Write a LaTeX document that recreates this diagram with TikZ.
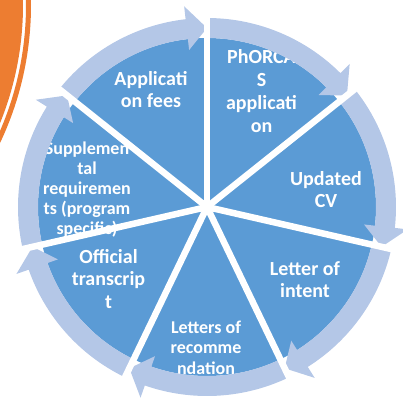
\documentclass[tikz,border=0pt]{standalone}
\usepackage{fontspec}
\setmainfont{Carlito}
\definecolor{pieblue}{HTML}{5B9BD5}
\definecolor{bandblue}{HTML}{B4C7E7}
\definecolor{accorange}{HTML}{ED7D31}
\tikzset{
  lblA/.style={text=white, font=\bfseries\fontsize{20}{22}\selectfont, anchor=base, inner sep=0pt},
  lblB/.style={text=white, font=\bfseries\fontsize{18}{20}\selectfont, anchor=base, inner sep=0pt},
  sepline/.style={draw=white, line width=6.5pt},
  bandarrow/.style={fill=bandblue},
}
\begin{document}
\begin{tikzpicture}[x=1pt,y=1pt]
\useasboundingbox (0,0) rectangle (403,402);
\clip (0,0) rectangle (403,402);
% orange decoration
\fill[accorange] (-291,397) circle[radius=314];
\draw[accorange, line width=5pt] (-291,397) circle[radius=319.5];
% pie
\node[circle, fill=pieblue, minimum size=338pt, inner sep=0pt] (pie) at (207,195) {};
% labels
\foreach \t [count=\i] in {{PhORCA},{S},{applicati},{on}}
  \node[lblA] (phorcas-\i) at (261.5,{338-22.7*(\i-1)}) {\t};
\foreach \t [count=\i] in {{Updated},{CV}}
  \node[lblA] (cv-\i) at (326,{217-22*(\i-1)}) {\t};
\foreach \t [count=\i] in {{Letter of},{intent}}
  \node[lblA] (intent-\i) at (305,{127-22*(\i-1)}) {\t};
\foreach \t [count=\i] in {{Letters of},{recomme},{ndation}}
  \node[lblB] (rec-\i) at (206,{69-20.5*(\i-1)}) {\t};
\foreach \t [count=\i] in {{Official},{transcrip},{t}}
  \node[lblA] (trans-\i) at (108.5,{139-22.5*(\i-1)}) {\t};
\foreach \t [count=\i] in {{Supplemen},{tal},{requiremen},{ts (program},{specific)}}
  \node[lblB] (supp-\i) at (87,{248-20*(\i-1)}) {\t};
\foreach \t [count=\i] in {{Applicati},{on fees}}
  \node[lblA] (fees-\i) at (151,{316-22*(\i-1)}) {\t};
% circular arrows
\begin{scope}[shift={(pie.center)}]
\foreach \k in {0,...,6} {
  \pgfmathsetmacro\bs{90-\k*360/7}
  \pgfmathsetmacro\be{\bs-360/7}
  \pgfmathsetmacro\ao{\bs-0.5}
  \pgfmathsetmacro\ab{\be+6.5}
  \fill[bandarrow] (\ao:169) arc[start angle=\ao, end angle=\ab, radius=169]
    -- (\ab:158) -- (\be:179) -- (\ab:202) -- (\ab:189)
    arc[start angle=\ab, end angle=\ao, radius=189] -- cycle;
}
\foreach \k in {0,...,6}
  \draw[sepline] (pie.center) -- ({90-\k*360/7}:193);
\end{scope}
\end{tikzpicture}
\end{document}
